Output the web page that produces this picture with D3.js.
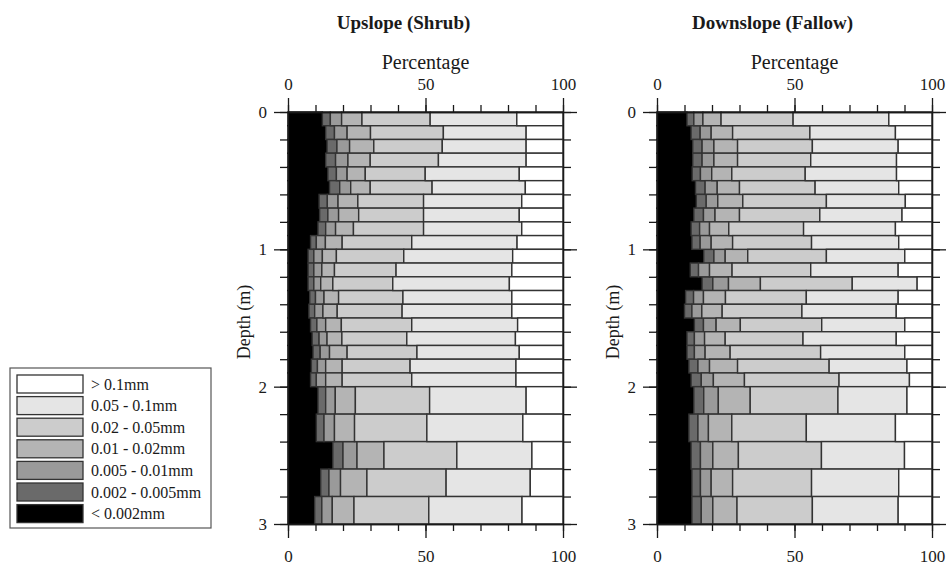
<!DOCTYPE html>
<html>
<head>
<meta charset="utf-8">
<script src="https://cdn.jsdelivr.net/npm/d3@7"></script>
<style>
  body { margin: 0; background: #fff; }
  svg text { font-family: "Liberation Serif", "Times New Roman", serif; fill: #1a1a1a; }
  .axis path, .axis line { stroke: #1a1a1a; stroke-width: 1.3; }
</style>
</head>
<body>
<div id="chart"></div>
<script>
// particle size classes, finest first (stack order left -> right)
var sizeClasses = ["< 0.002mm", "0.002 - 0.005mm", "0.005 - 0.01mm", "0.01 - 0.02mm",
  "0.02 - 0.05mm", "0.05 - 0.1mm", "> 0.1mm"];
var classColors = ["#000000", "#6a6a6a", "#9a9a9a", "#b4b4b4", "#cccccc", "#e5e5e5", "#ffffff"];

// sampling intervals (m)
var depthTop = [0, 0.1, 0.2, 0.3, 0.4, 0.5, 0.6, 0.7, 0.8, 0.9, 1.0, 1.1, 1.2, 1.3, 1.4,
  1.5, 1.6, 1.7, 1.8, 1.9, 2.0, 2.2, 2.4, 2.6, 2.8];
var depthBottom = [0.1, 0.2, 0.3, 0.4, 0.5, 0.6, 0.7, 0.8, 0.9, 1.0, 1.1, 1.2, 1.3, 1.4, 1.5,
  1.6, 1.7, 1.8, 1.9, 2.0, 2.2, 2.4, 2.6, 2.8, 3.0];

var depthTicks = [0, 0.2, 0.4, 0.6, 0.8, 1, 1.2, 1.4, 1.6, 1.8, 2, 2.2, 2.4, 2.6, 2.8, 3];
var depthLabels = [0, 1, 2, 3];
var pctTicks = [0, 10, 20, 30, 40, 50, 60, 70, 80, 90, 100];
var pctLabels = [0, 50, 100];

// Upslope (Shrub), % per class
var upClay = [12.5, 13.7, 14.2, 13.7, 14.5, 15.1, 11.3, 11.5, 10.9, 8.2, 7.3, 7.3, 7.3, 7.9, 7.6, 8.2, 8.8, 9.1, 8.5, 8.2, 10.9, 10.3, 16.3, 11.9, 9.7];
var upSilt1 = [2.9, 3.2, 3.6, 3.6, 3.1, 3.7, 3.0, 3.0, 2.8, 2.1, 2.1, 2.1, 2.1, 2.1, 2.1, 2.3, 2.5, 2.6, 2.2, 2.1, 2.8, 2.8, 3.7, 3.0, 2.6];
var upSilt2 = [4.1, 4.6, 4.6, 4.5, 3.9, 4.0, 3.9, 3.9, 3.6, 3.3, 3.1, 2.9, 2.5, 3.1, 3.0, 3.2, 2.9, 3.4, 3.0, 3.4, 3.5, 3.8, 5.1, 4.2, 3.8];
var upSilt3 = [7.4, 8.5, 8.8, 8.1, 6.6, 7.1, 7.2, 7.3, 6.5, 6.1, 5.1, 4.6, 4.4, 5.3, 5.2, 5.7, 5.4, 6.4, 6.0, 6.0, 7.3, 7.3, 9.8, 9.6, 7.9];
var upSilt4 = [24.8, 26.5, 24.9, 24.8, 21.8, 22.5, 23.9, 23.6, 25.5, 25.3, 24.5, 22.4, 21.8, 23.4, 23.6, 25.6, 23.6, 25.4, 24.7, 25.3, 27.0, 26.3, 26.5, 28.8, 27.2];
var upSand1 = [31.5, 30.1, 30.5, 31.9, 34.2, 33.9, 35.7, 34.8, 35.7, 38.3, 39.6, 42.1, 42.4, 39.6, 39.9, 38.5, 39.5, 37.2, 38.5, 37.9, 35.1, 34.9, 27.3, 30.6, 33.9];
var upSand2 = [16.8, 13.4, 13.4, 13.4, 15.9, 13.7, 15.0, 15.9, 15.0, 16.7, 18.3, 18.6, 19.5, 18.6, 18.6, 16.5, 17.3, 15.9, 17.1, 17.1, 13.4, 14.6, 11.3, 11.9, 14.9];

// Downslope (Fallow), % per class
var downClay = [10.9, 12.4, 13.0, 13.0, 12.8, 14.0, 14.3, 13.4, 12.4, 12.7, 17.0, 12.1, 16.4, 10.4, 10.0, 13.6, 10.9, 10.9, 11.6, 12.4, 13.4, 11.6, 12.4, 12.7, 12.7];
var downSilt1 = [2.5, 3.3, 3.4, 3.4, 3.0, 3.5, 3.6, 3.5, 3.1, 3.0, 3.7, 3.0, 3.9, 2.9, 2.7, 3.3, 2.7, 2.7, 3.3, 3.7, 3.6, 3.3, 3.4, 3.1, 3.4];
var downSilt2 = [3.3, 4.0, 4.3, 4.3, 4.1, 4.4, 4.2, 4.2, 3.6, 4.0, 4.1, 4.0, 5.7, 3.6, 3.6, 4.6, 3.7, 3.9, 4.2, 4.4, 5.3, 3.8, 4.5, 3.9, 4.2];
var downSilt3 = [6.6, 7.8, 8.6, 8.6, 7.3, 8.1, 9.1, 8.9, 7.0, 7.8, 8.2, 8.2, 11.6, 8.0, 7.4, 8.8, 7.5, 9.1, 10.2, 11.3, 11.6, 8.5, 9.3, 7.8, 8.8];
var downSilt4 = [26.2, 28.1, 27.2, 26.6, 26.7, 27.5, 30.4, 29.2, 27.2, 28.7, 28.6, 28.6, 33.4, 29.4, 29.0, 29.6, 28.3, 32.9, 33.3, 34.4, 31.9, 27.1, 30.2, 28.7, 27.4];
var downSand1 = [34.8, 31.1, 31.2, 31.2, 33.2, 30.4, 28.7, 29.9, 33.4, 31.7, 28.5, 31.8, 23.6, 33.4, 34.3, 30.2, 33.9, 30.6, 28.3, 25.6, 25.1, 32.4, 30.2, 31.7, 31.2];
var downSand2 = [15.7, 13.3, 12.3, 12.9, 12.9, 12.1, 9.7, 10.9, 13.3, 12.1, 9.9, 12.3, 5.4, 12.3, 13.0, 9.9, 13.0, 9.9, 9.1, 8.2, 9.1, 13.3, 10.0, 12.1, 12.3];

var svgWidth = 952;
var svgHeight = 572;
var plotTop = 112;
var plotHeight = 412;
var plotWidth = 275;

var svg = d3.select("#chart")
  .append("svg")
  .attr("width", svgWidth)
  .attr("height", svgHeight);

var x = d3.scaleLinear().domain([0, 100]).range([0, plotWidth]);
var y = d3.scaleLinear().domain([0, 3]).range([0, plotHeight]);

function drawPanel(left, title, series) {
  // build row table for d3.stack
  var rows = depthTop.map(function(t, i) {
    var r = { top: t, bottom: depthBottom[i] };
    series.forEach(function(s, k) { r[sizeClasses[k]] = s[i]; });
    return r;
  });
  var stacked = d3.stack().keys(sizeClasses)(rows);

  var g = svg.append("g").attr("transform", `translate(${left}, ${plotTop})`);

  var layers = g.selectAll("g.layer")
    .data(stacked)
    .enter().append("g")
    .attr("class", "layer")
    .attr("fill", (d, i) => classColors[i])
    // clay layer reads as one solid black block
    .attr("stroke", (d, i) => i == 0 ? "#000" : "#333");

  layers.selectAll("rect")
    .data(d => d)
    .enter().append("rect")
    .attr("x", d => x(d[0]))
    .attr("width", d => x(d[1]) - x(d[0]))
    .attr("y", d => y(d.data.top))
    .attr("height", d => y(d.data.bottom) - y(d.data.top))
    .attr("stroke-width", 1.4);

  // left axis: minor then major ticks
  g.append("g").attr("class", "axis")
    .call(d3.axisLeft(y).tickValues(depthTicks).tickSize(8).tickSizeOuter(0).tickFormat(""));
  g.append("g").attr("class", "axis")
    .call(d3.axisLeft(y).tickValues(depthLabels).tickSize(14).tickSizeOuter(0).tickPadding(7).tickFormat(d3.format("d")))
    .selectAll("text").style("font-size", "17px");

  // right axis
  g.append("g").attr("class", "axis")
    .attr("transform", `translate(${plotWidth}, 0)`)
    .call(d3.axisRight(y).tickValues(depthTicks).tickSize(8).tickSizeOuter(0).tickFormat(""));
  g.append("g").attr("class", "axis")
    .attr("transform", `translate(${plotWidth}, 0)`)
    .call(d3.axisRight(y).tickValues(depthLabels).tickSize(14).tickSizeOuter(0).tickFormat(""));

  // top axis
  g.append("g").attr("class", "axis")
    .call(d3.axisTop(x).tickValues(pctTicks).tickSize(7).tickSizeOuter(0).tickFormat(""));
  g.append("g").attr("class", "axis")
    .call(d3.axisTop(x).tickValues(pctLabels).tickSize(14).tickSizeOuter(0).tickPadding(8).tickFormat(d3.format("d")))
    .selectAll("text").style("font-size", "17px");

  // bottom axis
  g.append("g").attr("class", "axis")
    .attr("transform", `translate(0, ${plotHeight})`)
    .call(d3.axisBottom(x).tickValues(pctTicks).tickSize(7).tickSizeOuter(0).tickFormat(""));
  g.append("g").attr("class", "axis")
    .attr("transform", `translate(0, ${plotHeight})`)
    .call(d3.axisBottom(x).tickValues(pctLabels).tickSize(14).tickSizeOuter(0).tickPadding(12).tickFormat(d3.format("d")))
    .selectAll("text").style("font-size", "17px");

  g.selectAll(".axis .domain").attr("stroke-width", 1.5);

  // labels
  g.append("text")
    .attr("x", plotWidth / 2)
    .attr("y", 62 - plotTop)
    .attr("dy", "0.35em")
    .attr("text-anchor", "middle")
    .style("font-size", "20px")
    .text("Percentage");

  g.append("text")
    .attr("x", plotWidth / 2 - 22)
    .attr("y", 22 - plotTop)
    .attr("dy", "0.35em")
    .attr("text-anchor", "middle")
    .style("font-size", "19px")
    .style("font-weight", "bold")
    .text(title);

  g.append("text")
    .attr("transform", `translate(-44, ${plotHeight / 2 + 4}) rotate(-90)`)
    .attr("dy", "0.35em")
    .attr("text-anchor", "middle")
    .style("font-size", "18px")
    .text("Depth (m)");
}

drawPanel(288, "Upslope (Shrub)",
  [upClay, upSilt1, upSilt2, upSilt3, upSilt4, upSand1, upSand2]);
drawPanel(657, "Downslope (Fallow)",
  [downClay, downSilt1, downSilt2, downSilt3, downSilt4, downSand1, downSand2]);

// legend, coarsest first
var legend = svg.append("g").attr("transform", "translate(10, 368)");
legend.append("rect")
  .attr("width", 201)
  .attr("height", 160)
  .attr("fill", "#fff")
  .attr("stroke", "#555")
  .attr("stroke-width", 1.2);

var legendItems = legend.selectAll("g.item")
  .data(sizeClasses.slice().reverse())
  .enter().append("g")
  .attr("class", "item")
  .attr("transform", (d, i) => `translate(7, ${7 + i * 21.6})`);

legendItems.append("rect")
  .attr("width", 66)
  .attr("height", 18)
  .attr("fill", (d, i) => classColors[classColors.length - 1 - i])
  .attr("stroke", "#333")
  .attr("stroke-width", 1.3);

legendItems.append("text")
  .attr("x", 74)
  .attr("y", 9)
  .attr("dy", "0.35em")
  .style("font-size", "16px")
  .text(d => d);
</script>
</body>
</html>
